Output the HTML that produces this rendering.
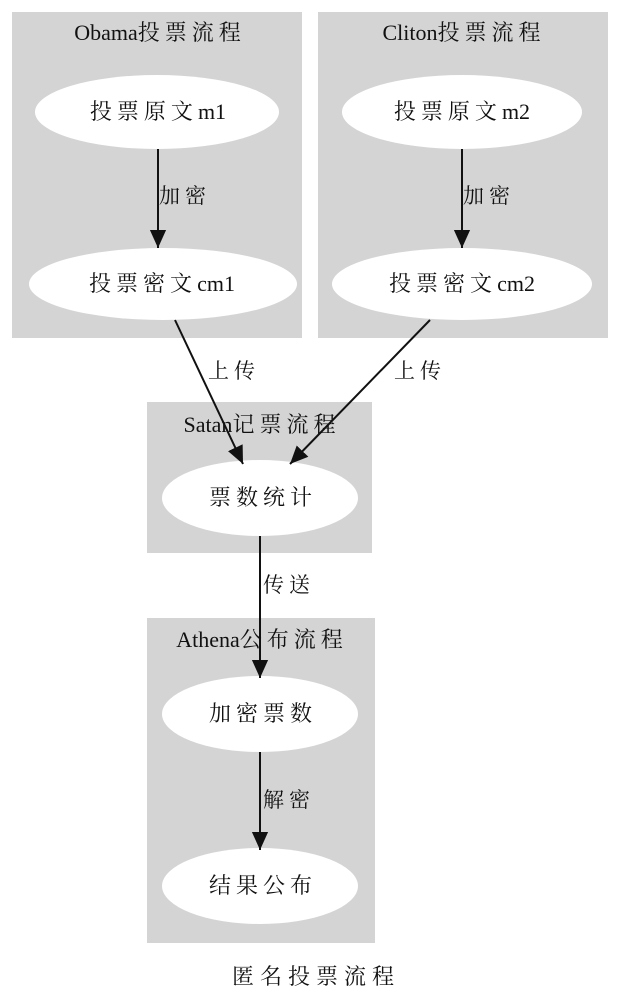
<!DOCTYPE html>
<html><head><meta charset="utf-8"><style>html,body{margin:0;padding:0;background:#fff}svg{display:block}.c{letter-spacing:5px}</style></head>
<body>
<svg width="625" height="1006" viewBox="0 0 625 1006" xmlns="http://www.w3.org/2000/svg" font-family="'Liberation Serif','Noto Serif CJK SC',serif" fill="#111">
<defs>
<marker id="b" viewBox="0 0 10 10" markerWidth="18" markerHeight="18" refX="10" refY="5" orient="auto" markerUnits="userSpaceOnUse"><path d="M0,0.5 L10,5 L0,9.5 z" fill="#111"/></marker></defs>
<rect x="12" y="12" width="290" height="326" fill="#d4d4d4"/>
<rect x="318" y="12" width="290" height="326" fill="#d4d4d4"/>
<rect x="147" y="402" width="225" height="151" fill="#d4d4d4"/>
<rect x="147" y="618" width="228" height="325" fill="#d4d4d4"/>
<g font-size="22" text-anchor="middle">
<text x="160" y="40">Obama<tspan class="c">投票流程</tspan></text>
<text x="464" y="40">Cliton<tspan class="c">投票流程</tspan></text>
<text x="262" y="432">Satan<tspan class="c">记票流程</tspan></text>
<text x="262" y="647">Athena<tspan class="c">公布流程</tspan></text>
</g>
<g fill="#fff">
<ellipse cx="157" cy="112" rx="122" ry="37"/>
<ellipse cx="163" cy="284" rx="134" ry="36"/>
<ellipse cx="462" cy="112" rx="120" ry="37"/>
<ellipse cx="462" cy="284" rx="130" ry="36"/>
<ellipse cx="260" cy="498" rx="98" ry="38"/>
<ellipse cx="260" cy="714" rx="98" ry="38"/>
<ellipse cx="260" cy="886" rx="98" ry="38"/>
</g>
<g stroke="#111" stroke-width="2" marker-end="url(#b)">
<line x1="158" y1="149" x2="158" y2="248"/>
<line x1="462" y1="149" x2="462" y2="248"/>
<line x1="175" y1="320" x2="243" y2="464"/>
<line x1="430" y1="320" x2="290" y2="464"/>
<line x1="260" y1="536" x2="260" y2="678"/>
<line x1="260" y1="752" x2="260" y2="850"/>
</g>
<g font-size="22" text-anchor="middle">
<text x="158" y="119"><tspan class="c">投票原文</tspan>m1</text>
<text x="162" y="291"><tspan class="c">投票密文</tspan>cm1</text>
<text x="462" y="119"><tspan class="c">投票原文</tspan>m2</text>
<text x="462" y="291"><tspan class="c">投票密文</tspan>cm2</text>
<text x="263" y="505" class="c">票数统计</text>
<text x="263" y="721" class="c">加密票数</text>
<text x="263" y="893" class="c">结果公布</text>
</g>
<g font-size="21" class="c">
<text x="159" y="203">加密</text>
<text x="463" y="203">加密</text>
<text x="208" y="378">上传</text>
<text x="394" y="378">上传</text>
<text x="263" y="592">传送</text>
<text x="263" y="807">解密</text>
</g>
<text x="316" y="984" font-size="22" text-anchor="middle" letter-spacing="6">匿名投票流程</text>
</svg>
</body></html>
